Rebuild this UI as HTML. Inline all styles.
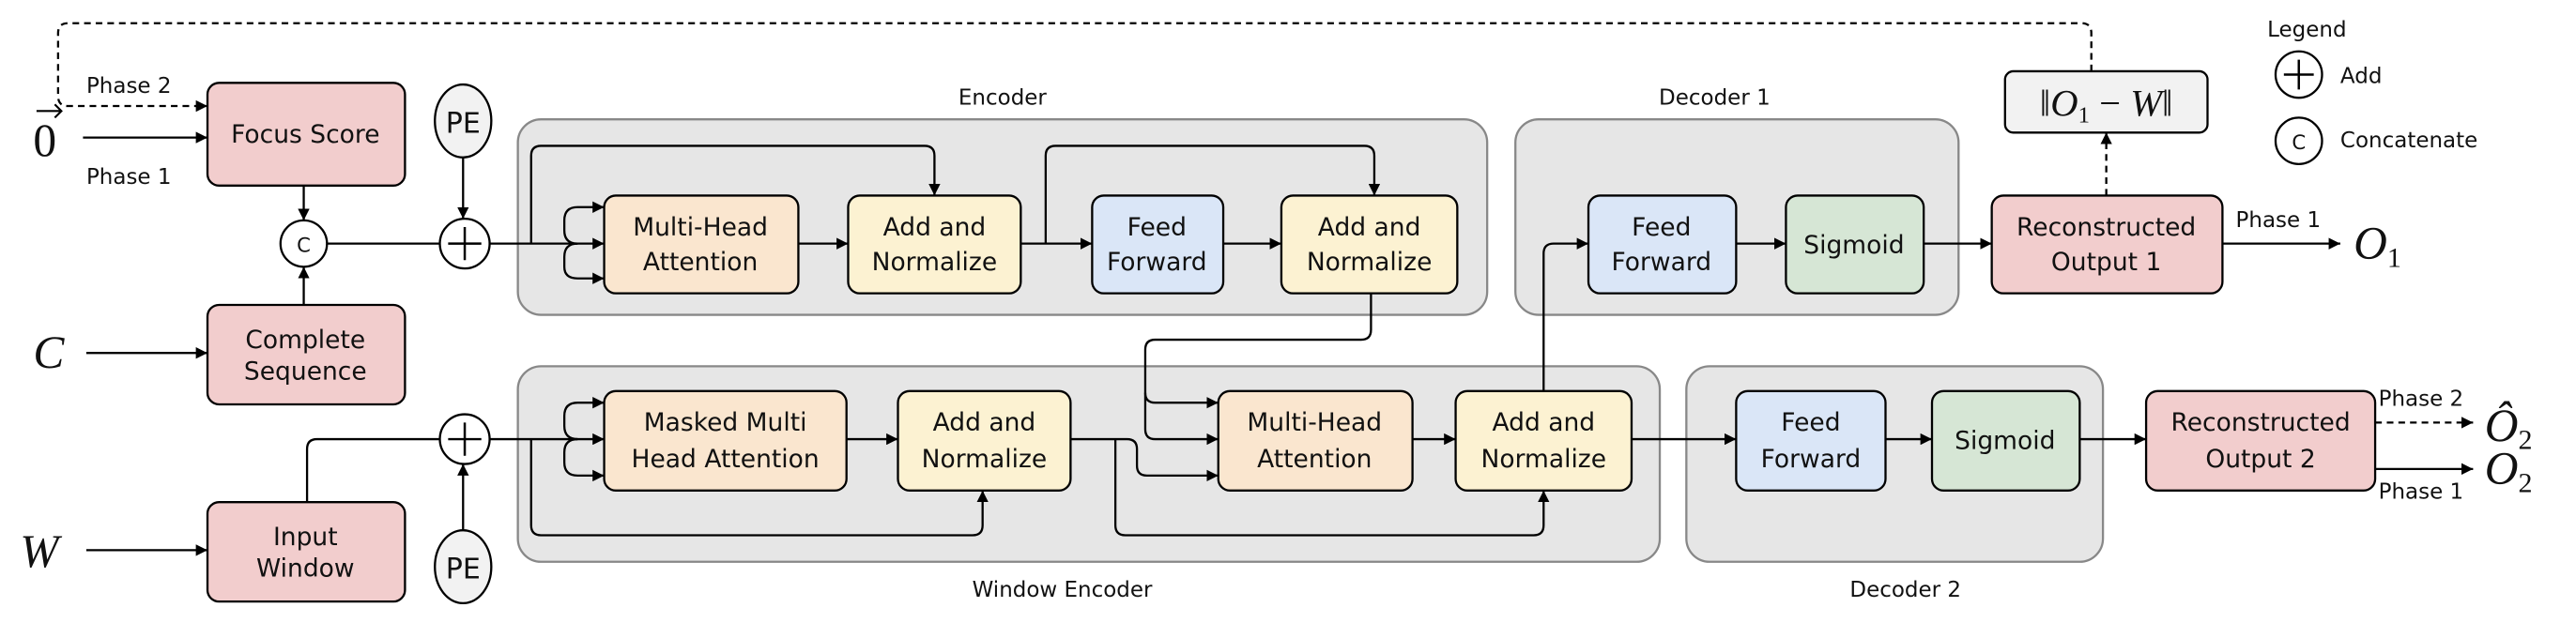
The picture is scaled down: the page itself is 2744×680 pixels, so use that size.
<!DOCTYPE html>
<html><head><meta charset="utf-8"><style>
html,body{margin:0;padding:0;background:#fff;}
svg{display:block;}
text{font-family:"DejaVu Sans","Liberation Sans",sans-serif;fill:#111;}
.m text, text.m{font-family:"Liberation Serif",serif;font-style:italic;}
</style></head><body>
<svg width="2744" height="680" viewBox="0 0 1552 385" preserveAspectRatio="none" xmlns="http://www.w3.org/2000/svg">
<defs>
<marker id="a" viewBox="0 0 10 10" refX="10" refY="5" markerWidth="7" markerHeight="7" orient="auto" markerUnits="userSpaceOnUse"><path d="M0,0L10,5L0,10z" fill="#000"/></marker>
</defs>
<g fill="#e6e6e6" stroke="#888" stroke-width="1.3">
<rect x="312" y="72" width="584" height="118" rx="14"/>
<rect x="913" y="72" width="267" height="118" rx="14"/>
<rect x="312" y="221" width="688" height="118" rx="14"/>
<rect x="1016" y="221" width="251" height="118" rx="14"/>
</g>
<g font-size="13" text-anchor="middle">
<text x="604" y="63">Encoder</text>
<text x="1033" y="63">Decoder 1</text>
<text x="640" y="360">Window Encoder</text>
<text x="1148" y="360">Decoder 2</text>
</g>
<g fill="none" stroke="#000" stroke-width="1.3">
<path d="M1260,43 V20 Q1260,14 1254,14 H41 Q35,14 35,20 V58 Q35,64 41,64 H125" stroke-dasharray="4,3" marker-end="url(#a)"/>
<path d="M1269,118 V80" stroke-dasharray="4,3" marker-end="url(#a)"/>
<path d="M50,83 H125" marker-end="url(#a)"/>
<path d="M52,213 H125" marker-end="url(#a)"/>
<path d="M52,332 H125" marker-end="url(#a)"/>
<path d="M183,112 V133" marker-end="url(#a)"/>
<path d="M183,184 V161" marker-end="url(#a)"/>
<path d="M197,147 H265"/>
<path d="M279,95 V132" marker-end="url(#a)"/>
<path d="M279,320 V280" marker-end="url(#a)"/>
<path d="M185,303 V271 Q185,265 191,265 H265"/>
<path d="M295,147 H364" marker-end="url(#a)"/>
<path d="M348,147 Q340,147 340,139 V133 Q340,125 348,125 H364" marker-end="url(#a)"/>
<path d="M348,147 Q340,147 340,155 V161 Q340,168 348,168 H364" marker-end="url(#a)"/>
<path d="M320,147 V94 Q320,88 326,88 H557 Q563,88 563,94 V118" marker-end="url(#a)"/>
<path d="M481,147 H511" marker-end="url(#a)"/>
<path d="M615,147 H658" marker-end="url(#a)"/>
<path d="M630,147 V94 Q630,88 636,88 H822 Q828,88 828,94 V118" marker-end="url(#a)"/>
<path d="M737,147 H772" marker-end="url(#a)"/>
<path d="M826,177 V199 Q826,205 820,205 H696 Q690,205 690,211 V259 Q690,265 696,265 H734" marker-end="url(#a)"/>
<path d="M690,237 Q690,243 696,243 H734" marker-end="url(#a)"/>
<path d="M295,265 H364" marker-end="url(#a)"/>
<path d="M348,265 Q340,265 340,257 V251 Q340,243 348,243 H364" marker-end="url(#a)"/>
<path d="M348,265 Q340,265 340,273 V279 Q340,287 348,287 H364" marker-end="url(#a)"/>
<path d="M320,265 V317 Q320,323 326,323 H586 Q592,323 592,317 V296" marker-end="url(#a)"/>
<path d="M510,265 H541" marker-end="url(#a)"/>
<path d="M645,265 H679 Q685,265 685,271 V281 Q685,287 691,287 H734" marker-end="url(#a)"/>
<path d="M672,265 V317 Q672,323 678,323 H924 Q930,323 930,317 V296" marker-end="url(#a)"/>
<path d="M851,265 H877" marker-end="url(#a)"/>
<path d="M930,236 V153 Q930,147 936,147 H957" marker-end="url(#a)"/>
<path d="M983,265 H1046" marker-end="url(#a)"/>
<path d="M1046,147 H1076" marker-end="url(#a)"/>
<path d="M1159,147 H1200" marker-end="url(#a)"/>
<path d="M1339,147 H1410" marker-end="url(#a)"/>
<path d="M1136,265 H1164" marker-end="url(#a)"/>
<path d="M1253,265 H1293" marker-end="url(#a)"/>
<path d="M1431,255 H1490" stroke-dasharray="4,3" marker-end="url(#a)"/>
<path d="M1431,283 H1490" marker-end="url(#a)"/>
</g>
<g stroke="#000" stroke-width="1.3">
<rect x="125" y="50" width="119" height="62" rx="7" fill="#f2cdcd"/>
<rect x="125" y="184" width="119" height="60" rx="7" fill="#f2cdcd"/>
<rect x="125" y="303" width="119" height="60" rx="7" fill="#f2cdcd"/>
<rect x="364" y="118" width="117" height="59" rx="7" fill="#fae6cf"/>
<rect x="511" y="118" width="104" height="59" rx="7" fill="#fcf2d2"/>
<rect x="658" y="118" width="79" height="59" rx="7" fill="#dae6f7"/>
<rect x="772" y="118" width="106" height="59" rx="7" fill="#fcf2d2"/>
<rect x="957" y="118" width="89" height="59" rx="7" fill="#dae6f7"/>
<rect x="1076" y="118" width="83" height="59" rx="7" fill="#d6e6d5"/>
<rect x="1200" y="118" width="139" height="59" rx="7" fill="#f2cdcd"/>
<rect x="1208" y="43" width="122" height="37" rx="5" fill="#f2f2f2"/>
<rect x="364" y="236" width="146" height="60" rx="7" fill="#fae6cf"/>
<rect x="541" y="236" width="104" height="60" rx="7" fill="#fcf2d2"/>
<rect x="734" y="236" width="117" height="60" rx="7" fill="#fae6cf"/>
<rect x="877" y="236" width="106" height="60" rx="7" fill="#fcf2d2"/>
<rect x="1046" y="236" width="90" height="60" rx="7" fill="#dae6f7"/>
<rect x="1164" y="236" width="89" height="60" rx="7" fill="#d6e6d5"/>
<rect x="1293" y="236" width="138" height="60" rx="7" fill="#f2cdcd"/>
<circle cx="183" cy="147" r="14" fill="#fff"/>
<circle cx="280" cy="147" r="15" fill="#fff"/>
<circle cx="280" cy="265" r="15" fill="#fff"/>
<ellipse cx="279" cy="73" rx="17" ry="22" fill="#f2f2f2"/>
<ellipse cx="279" cy="342" rx="17" ry="22" fill="#f2f2f2"/>
<circle cx="1385" cy="45" r="14" fill="#fff"/>
<circle cx="1385" cy="85" r="14" fill="#fff"/>
</g>
<g stroke="#000" stroke-width="1.4">
<path d="M270,147 H290 M280,137 V157"/>
<path d="M270,265 H290 M280,255 V275"/>
<path d="M1376,45 H1394 M1385,36 V54"/>
</g>
<g font-size="15" text-anchor="middle">
<text x="184" y="86">Focus Score</text>
<text x="184" y="210">Complete</text><text x="184" y="229">Sequence</text>
<text x="184" y="329">Input</text><text x="184" y="348">Window</text>
<text x="422" y="142">Multi-Head</text><text x="422" y="163">Attention</text>
<text x="563" y="142">Add and</text><text x="563" y="163">Normalize</text>
<text x="697" y="142">Feed</text><text x="697" y="163">Forward</text>
<text x="825" y="142">Add and</text><text x="825" y="163">Normalize</text>
<text x="1001" y="142">Feed</text><text x="1001" y="163">Forward</text>
<text x="1117" y="153">Sigmoid</text>
<text x="1269" y="142">Reconstructed</text><text x="1269" y="163">Output 1</text>
<text x="437" y="260">Masked Multi</text><text x="437" y="282">Head Attention</text>
<text x="593" y="260">Add and</text><text x="593" y="282">Normalize</text>
<text x="792" y="260">Multi-Head</text><text x="792" y="282">Attention</text>
<text x="930" y="260">Add and</text><text x="930" y="282">Normalize</text>
<text x="1091" y="260">Feed</text><text x="1091" y="282">Forward</text>
<text x="1208" y="271">Sigmoid</text>
<text x="1362" y="260">Reconstructed</text><text x="1362" y="282">Output 2</text>
<text x="279" y="80" font-size="17">PE</text>
<text x="279" y="349" font-size="17">PE</text>
<text x="183" y="152" font-size="12">C</text>
<text x="1385" y="90" font-size="12">C</text>
</g>
<g font-size="13">
<text x="52" y="56">Phase 2</text>
<text x="52" y="111">Phase 1</text>
<text x="1347" y="137">Phase 1</text>
<text x="1433" y="245">Phase 2</text>
<text x="1433" y="301">Phase 1</text>
<text x="1366" y="22">Legend</text>
<text x="1410" y="50">Add</text>
<text x="1410" y="89">Concatenate</text>
</g>
<path d="M22,67 H37 M33,63 L37,67 L33,71" stroke="#000" stroke-width="1.2" fill="none"/>
<g font-size="28" class="m">
<text x="20" y="94" style="font-style:normal">0</text>
<text x="20" y="222">C</text>
<text x="12" y="342">W</text>
<text x="1418" y="156">O<tspan font-size="17" dy="5" style="font-style:normal">1</tspan></text>
<text x="1497" y="266">Ô<tspan font-size="17" dy="5" style="font-style:normal">2</tspan></text>
<text x="1497" y="292">O<tspan font-size="17" dy="5" style="font-style:normal">2</tspan></text>
<text x="1269" y="70" font-size="23" text-anchor="middle"><tspan style="font-style:normal">‖</tspan>O<tspan font-size="14" dy="4" style="font-style:normal">1</tspan><tspan dy="-4" style="font-style:normal"> − </tspan>W<tspan style="font-style:normal">‖</tspan></text>
</g>
</svg>
</body></html>
